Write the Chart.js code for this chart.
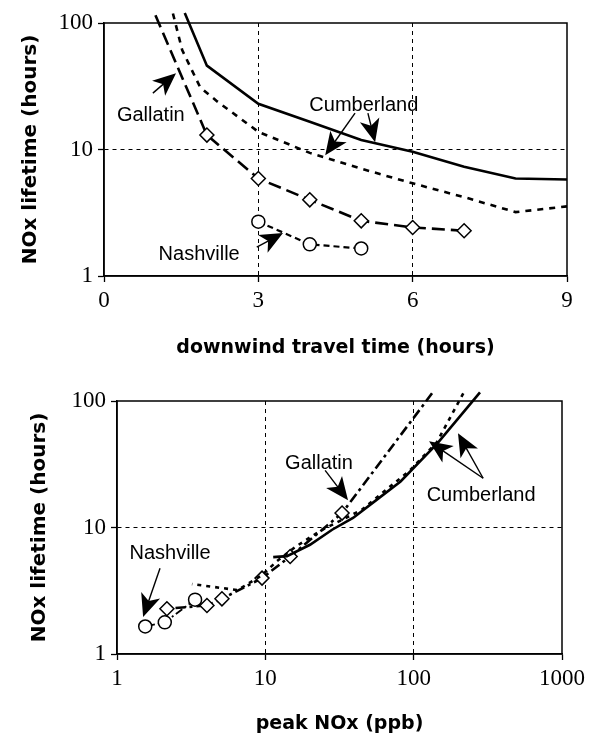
<!DOCTYPE html>
<html>
<head>
<meta charset="utf-8">
<script src="https://cdn.jsdelivr.net/npm/chart.js@4"></script>
<style>
  body { margin: 0; background: #fff; }
  #wrap { position: relative; width: 594px; height: 734px; }
  canvas { position: absolute; left: 0; }
</style>
</head>
<body>
<div id="wrap">
  <canvas id="travelChart" width="594" height="362" style="top:0"></canvas>
  <canvas id="peakChart" width="594" height="372" style="top:362px"></canvas>
</div>
<script>
// NOx lifetime (hours) against downwind travel time (hours)
const cumbSolidHours = [1.57, 2, 3, 4, 5, 6, 7, 8, 9];
const cumbSolidLife  = [120, 46, 23, 16.6, 11.9, 9.6, 7.3, 5.9, 5.8];
const cumbDashHours  = [1.34, 1.52, 1.87, 2.2, 3, 4, 5, 6, 7, 8, 9];
const cumbDashLife   = [119, 61, 31, 24, 13.8, 9.4, 7.05, 5.4, 4.2, 3.2, 3.55];
const gallatinHours  = [1, 2, 3, 4, 5, 6, 7];
const gallatinLife   = [115, 13, 5.9, 4.0, 2.73, 2.42, 2.28];
const nashvilleHours = [3, 4, 5];
const nashvilleLife  = [2.69, 1.78, 1.65];

// NOx lifetime (hours) against peak NOx (ppb)
const cumbSolidPeak     = [280, 145, 81.6, 56.5, 39, 28.2, 20, 14, 11.3];
const cumbSolidPeakLife = [117, 46.4, 23.1, 16.6, 11.9, 9.6, 7.3, 5.94, 5.83];
const cumbDashPeak      = [216, 143, 94.7, 44.7, 23.4, 16, 12, 9.5, 6.5, 3.2];
const cumbDashPeakLife  = [115, 47, 28.4, 13.8, 9.4, 7.05, 5.43, 4.2, 3.2, 3.57];
const gallatinPeak      = [133, 32.9, 14.7, 9.5, 5.1, 4.04, 2.17];
const gallatinPeakLife  = [115, 13, 5.9, 3.98, 2.73, 2.42, 2.28];
const nashvillePeak     = [3.36, 2.1, 1.55];
const nashvillePeakLife = [2.69, 1.78, 1.65];

const travelTicks = [0, 3, 6, 9];
const peakTicks = [1, 10, 100, 1000];
const lifeTicks = [1, 10, 100];

const serif = { family: '"Liberation Serif", serif', size: 23 };
const boldX = { family: '"DejaVu Sans", sans-serif', size: 19, weight: 'bold', lineHeight: 1 };
const boldY = { family: '"DejaVu Sans", sans-serif', size: 20, weight: 'bold', lineHeight: 1 };

function series(xs, ys, style) {
    return Object.assign({
        data: xs.map((x, i) => ({ x: x, y: ys[i] })),
        borderColor: '#000',
        borderWidth: 2.6,
        pointRadius: 0,
        pointBackgroundColor: '#fff',
        pointBorderColor: '#000',
        pointBorderWidth: 1.5,
        fill: false,
        tension: 0,
        clip: false
    }, style);
}

// dashed grid only on the inner major lines
function gridStyle(edges) {
    return {
        color: c => (c.tick && edges.includes(c.tick.value)) ? 'rgba(0,0,0,0)' : '#000',
        lineWidth: 1,
        tickColor: '#000',
        tickLength: 6,
        tickWidth: 1.3
    };
}

function axis(type, min, max, tickList, edges, extra) {
    return Object.assign({
        type: type, min: min, max: max,
        afterBuildTicks: s => { s.ticks = tickList.map(v => ({ value: v })); },
        grid: gridStyle(edges),
        border: { display: true, color: '#000', width: 1.5, dash: [4, 4] },
        ticks: { font: serif, color: '#000', padding: 5, maxRotation: 0, autoSkip: false, callback: v => v }
    }, extra);
}

// frame round the plot area
const boxPlugin = {
    id: 'box',
    afterDatasetsDraw(chart) {
        const a = chart.chartArea, ctx = chart.ctx;
        ctx.save();
        ctx.strokeStyle = '#000';
        ctx.lineWidth = 1.5;
        ctx.strokeRect(a.left, a.top, a.right - a.left, a.bottom - a.top);
        ctx.restore();
    }
};

// site names with pointer arrows, placed in data units
const notesPlugin = {
    id: 'notes',
    afterDatasetsDraw(chart, args, opts) {
        const ctx = chart.ctx, xs = chart.scales.x, ys = chart.scales.y;
        const px = p => [xs.getPixelForValue(p[0]), ys.getPixelForValue(p[1])];
        ctx.save();
        ctx.fillStyle = '#000';
        ctx.strokeStyle = '#000';
        ctx.font = '20px "Liberation Sans", sans-serif';
        ctx.textAlign = 'center';
        ctx.textBaseline = 'middle';
        (opts.labels || []).forEach(l => {
            const p = px(l.at);
            ctx.fillText(l.text, p[0], p[1]);
        });
        (opts.arrows || []).forEach(a => {
            const p0 = px(a.from), p1 = px(a.to);
            const ang = Math.atan2(p1[1] - p0[1], p1[0] - p0[0]);
            const c = Math.cos(ang), s = Math.sin(ang);
            ctx.lineWidth = 1.4;
            ctx.beginPath();
            ctx.moveTo(p0[0], p0[1]);
            ctx.lineTo(p1[0] - 16 * c, p1[1] - 16 * s);
            ctx.stroke();
            ctx.beginPath();
            ctx.moveTo(p1[0], p1[1]);
            ctx.lineTo(p1[0] - 23 * c + 10 * s, p1[1] - 23 * s - 10 * c);
            ctx.lineTo(p1[0] - 17 * c, p1[1] - 17 * s);
            ctx.lineTo(p1[0] - 23 * c - 10 * s, p1[1] - 23 * s + 10 * c);
            ctx.closePath();
            ctx.fill();
        });
        ctx.restore();
    }
};

const travelCtx = document.getElementById('travelChart').getContext('2d');
new Chart(travelCtx, {
    type: 'line',
    data: {
        datasets: [
            series(cumbSolidHours, cumbSolidLife, {}),
            series(cumbDashHours, cumbDashLife, { borderDash: [6, 6] }),
            series(gallatinHours, gallatinLife, {
                borderDash: [13, 6],
                pointStyle: 'rectRot',
                pointRadius: [0, 7, 7, 7, 7, 7, 7]
            }),
            series(nashvilleHours, nashvilleLife, {
                borderWidth: 2.2,
                borderDash: [6, 4],
                pointStyle: 'circle',
                pointRadius: 6.5
            })
        ]
    },
    options: {
        responsive: false,
        animation: false,
        layout: { padding: { top: 23, right: 27, left: 0, bottom: 0 } },
        scales: {
            x: axis('linear', 0, 9, travelTicks, [0, 9], {
                afterFit: s => { s.height = 86; },
                title: { display: true, text: 'downwind travel time (hours)', font: boldX, color: '#000', padding: { top: 0, bottom: 4 } }
            }),
            y: axis('logarithmic', 1, 100, lifeTicks, [1, 100], {
                afterFit: s => { s.width = 104; },
                title: { display: true, text: 'NOx lifetime (hours)', font: boldY, color: '#000', padding: { top: 21, bottom: 0 } }
            })
        },
        plugins: {
            legend: { display: false },
            tooltip: { enabled: false },
            notes: {
                labels: [
                    { text: 'Gallatin', at: [0.91, 18.7] },
                    { text: 'Cumberland', at: [5.05, 22.4] },
                    { text: 'Nashville', at: [1.85, 1.47] }
                ],
                arrows: [
                    { from: [0.95, 27.9], to: [1.40, 40.1] },
                    { from: [4.88, 19.4], to: [4.30, 9.0] },
                    { from: [5.13, 19.4], to: [5.27, 11.4] },
                    { from: [2.97, 1.69], to: [3.48, 2.19] }
                ]
            }
        }
    },
    plugins: [boxPlugin, notesPlugin]
});

const peakCtx = document.getElementById('peakChart').getContext('2d');
new Chart(peakCtx, {
    type: 'line',
    data: {
        datasets: [
            series(cumbSolidPeak, cumbSolidPeakLife, {}),
            series(cumbDashPeak, cumbDashPeakLife, { borderDash: [4, 5] }),
            series(gallatinPeak, gallatinPeakLife, {
                borderDash: [10, 4, 3, 4],
                pointStyle: 'rectRot',
                pointRadius: [0, 7, 7, 7, 7, 7, 7]
            }),
            series(nashvillePeak, nashvillePeakLife, {
                borderWidth: 1.8,
                borderDash: [8, 3, 2, 3],
                pointStyle: 'circle',
                pointRadius: 6.5
            })
        ]
    },
    options: {
        responsive: false,
        animation: false,
        layout: { padding: { top: 39, right: 32, left: 0, bottom: 0 } },
        scales: {
            x: axis('logarithmic', 1, 1000, peakTicks, [1, 1000], {
                afterFit: s => { s.height = 80; },
                title: { display: true, text: 'peak NOx (ppb)', font: boldX, color: '#000', padding: { top: 0, bottom: 0 } }
            }),
            y: axis('logarithmic', 1, 100, lifeTicks, [1, 100], {
                afterFit: s => { s.width = 117; },
                title: { display: true, text: 'NOx lifetime (hours)', font: boldY, color: '#000', padding: { top: 30, bottom: 0 } }
            })
        },
        plugins: {
            legend: { display: false },
            tooltip: { enabled: false },
            notes: {
                labels: [
                    { text: 'Nashville', at: [2.28, 6.27] },
                    { text: 'Gallatin', at: [23.0, 32.2] },
                    { text: 'Cumberland', at: [285, 18.0] }
                ],
                arrows: [
                    { from: [1.95, 4.77], to: [1.50, 1.96] },
                    { from: [25.3, 28.3], to: [36.1, 16.4] },
                    { from: [294, 24.5], to: [127, 48] },
                    { from: [294, 24.5], to: [199, 55.5] }
                ]
            }
        }
    },
    plugins: [boxPlugin, notesPlugin]
});
</script>
</body>
</html>
